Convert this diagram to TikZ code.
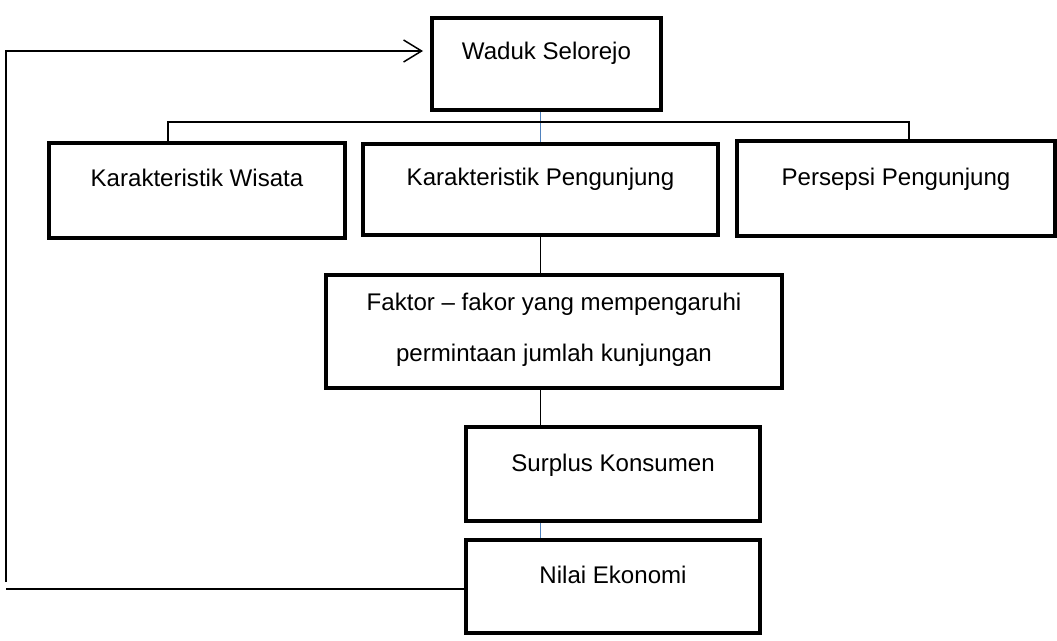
\documentclass[tikz,border=0pt]{standalone}
\usepackage{fontspec}
\setmainfont{Liberation Sans}
\usepackage{xcolor}
\usepackage{tikz}
\usetikzlibrary{arrows.meta,calc}
\definecolor{wordblue}{RGB}{79,129,189}
\begin{document}
\begin{tikzpicture}[
  x=0.02cm, y=-0.02cm,
  box/.style={draw, line width=2.3pt, inner sep=0pt, align=center,
    font=\fontsize{13.7pt}{16pt}\selectfont, text height=10pt, text depth=#1},
  box/.default=15pt,
  link/.style={line width=0.85pt},
  bluelink/.style={line width=0.85pt, draw=wordblue},
  back/.style={line width=0.85pt, -{Straight Barb[length=0.36cm, width=0.44cm, line width=0.85pt]}, shorten >=0.14cm}
]
\useasboundingbox (0,0) rectangle (1057,641);

\node[box, minimum width=4.58cm, minimum height=1.84cm] (waduk) at (546.5,64) {Waduk Selorejo};
\node[box, minimum width=5.92cm, minimum height=1.9cm] (wisata) at (197,190.5) {Karakteristik Wisata};
\node[box=14.4pt, minimum width=7.1cm, minimum height=1.82cm] (pengunjung) at (540.5,189.5) {Karakteristik Pengunjung};
\node[box=5pt, text height=39pt, minimum width=9.12cm, minimum height=2.26cm, font=\fontsize{13.7pt}{29pt}\selectfont] (faktor) at (554,331.5) {Faktor -- fakor yang mempengaruhi\\ permintaan jumlah kunjungan};
\node[box=13.5pt, minimum width=6.36cm, minimum height=1.9cm] (persepsi) at (896,188.5) {Persepsi Pengunjung};
\node[box=13pt, minimum width=5.88cm, minimum height=1.88cm] (surplus) at (613,474) {Surplus Konsumen};
\node[box=13pt, minimum width=5.88cm, minimum height=1.86cm] (nilai) at (613,586.5) {Nilai Ekonomi};

\coordinate (loop) at (6,582);

\draw[bluelink] (pengunjung.north |- waduk.south) -- (pengunjung.north);
\draw[link] ([xshift=-0.58cm]wisata.north) -- ++(0,-19) -| ([xshift=0.26cm]persepsi.north);
\draw[link] (pengunjung.south) -- (pengunjung.south |- faktor.north);
\draw[link] (faktor.south -| pengunjung) -- (surplus.north -| pengunjung);
\draw[bluelink] (surplus.south -| pengunjung) -- (nilai.north -| pengunjung);
\draw[link] ([yshift=-0.05cm]nilai.west) -- ([yshift=-0.05cm]nilai.west -| loop);
\draw[back] (loop) |- ([yshift=0.26cm]waduk.west);
\end{tikzpicture}
\end{document}
